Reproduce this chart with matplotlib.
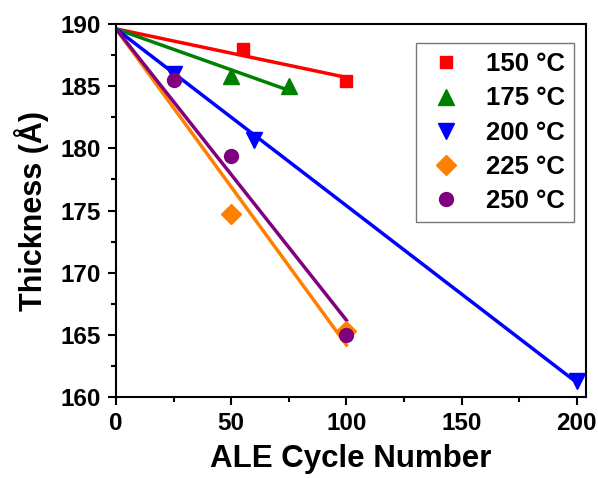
import numpy as np
import matplotlib.pyplot as plt
from matplotlib.ticker import MultipleLocator

plt.rcParams["font.family"] = ["Liberation Sans", "DejaVu Sans"]
plt.rcParams["font.weight"] = "bold"

# data
t0 = 189.6  # starting thickness, all fits go through it
cyc_150 = [55, 100]
thk_150 = [188.0, 185.4]
cyc_175 = [50, 75]
thk_175 = [185.8, 185.0]
cyc_200 = [25, 60, 200]
thk_200 = [186.0, 180.7, 161.3]
cyc_225 = [50, 100]
thk_225 = [174.7, 165.3]
cyc_250 = [25, 50, 100]
thk_250 = [185.5, 179.4, 165.0]

series = [
    ("150 °C", cyc_150, thk_150, "#ff0000", "s", 9),
    ("175 °C", cyc_175, thk_175, "#008000", "^", 12),
    ("200 °C", cyc_200, thk_200, "#0000ff", "v", 12),
    ("225 °C", cyc_225, thk_225, "#ff8000", "D", 10),
    ("250 °C", cyc_250, thk_250, "#800080", "o", 10),
]

fig = plt.figure(figsize=(5.98, 4.78), dpi=100)
ax = fig.add_axes([0.194, 0.169, 0.786, 0.781])

for label, x, y, color, marker, ms in series:
    x = np.array(x, dtype=float)
    y = np.array(y, dtype=float)
    # linear fit with intercept fixed at the starting thickness
    slope = np.sum(x * (y - t0)) / np.sum(x * x)
    xf = np.array([0, x.max()])
    ax.plot(xf, t0 + slope * xf, color=color, lw=2.5, zorder=2)
    ax.plot(x, y, linestyle="none", marker=marker, color=color,
            markersize=ms, label=label, zorder=3)

ax.set_xlim(0, 204)
ax.set_ylim(160, 190)
ax.xaxis.set_major_locator(MultipleLocator(50))
ax.xaxis.set_minor_locator(MultipleLocator(25))
ax.yaxis.set_major_locator(MultipleLocator(5))
ax.yaxis.set_minor_locator(MultipleLocator(2.5))
ax.tick_params(which="both", direction="out", width=1.5, labelsize=17.5)
ax.tick_params(which="major", length=6, pad=5)
ax.tick_params(which="minor", length=3.5)
for sp in ax.spines.values():
    sp.set_linewidth(1.5)

ax.set_xlabel("ALE Cycle Number", fontsize=22.5, fontweight="bold", labelpad=6)
ax.set_ylabel("Thickness (Å)", fontsize=22, fontweight="bold", labelpad=8)

leg = ax.legend(loc="upper right", bbox_to_anchor=(0.985, 0.962), fontsize=18.5,
                frameon=True, fancybox=False, edgecolor="#555555",
                handletextpad=0.75, labelspacing=0.4, borderpad=0.35,
                handlelength=1.6, borderaxespad=0.2)
leg.get_frame().set_linewidth(1.0)

fig.savefig("out.png", dpi=100)
